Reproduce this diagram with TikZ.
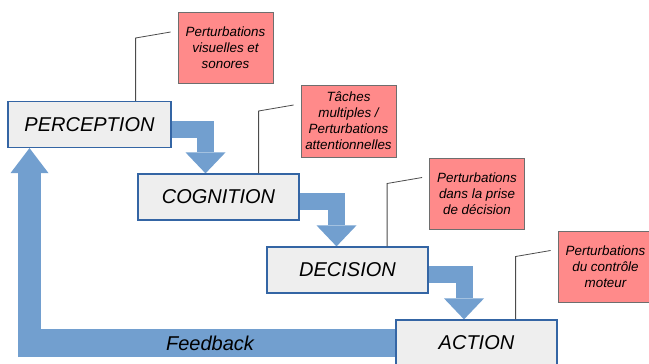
\documentclass[tikz,border=0pt]{standalone}
\usepackage{fontspec}
\setmainfont{Liberation Sans}
\usetikzlibrary{arrows.meta,backgrounds}

\definecolor{flowblue}{HTML}{729FCF}
\definecolor{boxblue}{HTML}{3465A4}
\definecolor{boxgray}{HTML}{EEEEEE}
\definecolor{notered}{HTML}{FF8A8A}
\definecolor{notegray}{HTML}{6E6E6E}

\tikzset{
  stage/.style={draw=boxblue, fill=boxgray, line width=1.2pt, minimum width=161pt,
    minimum height=46pt, inner sep=0pt, font=\fontsize{20}{24}\selectfont\itshape},
  note/.style={draw=notegray, fill=notered, line width=0.8pt, minimum width=95pt,
    minimum height=71pt, inner sep=0pt, align=center, font=\fontsize{13.4}{16}\selectfont\itshape},
  flow/.style={draw=flowblue, line width=17pt, line join=miter,
    -{Triangle[width=40pt,length=21pt,line width=0pt]}},
  leader/.style={draw=black!70, line width=0.8pt},
}

\begin{document}
\begin{tikzpicture}[x=1pt,y=-1pt]
\useasboundingbox (0,0) rectangle (649,364);

\node [stage, minimum width=163pt] (perception) at (89.5,124.5) {PERCEPTION};
\node [stage] (cognition) at (218.5,197) {COGNITION};
\node [stage] (decision) at (347.5,270) {DECISION};
\node [stage] (action) at (476.5,343) {ACTION};

\node [note] (percnote) at (225.5,48) {Perturbations\\visuelles et\\sonores};
\node [note, minimum height=72pt] (cognote) at (348.5,121) {Tâches\\multiples /\\Perturbations\\attentionnelles};
\node [note] (decnote) at (477,193.5) {Perturbations\\dans la prise\\de décision};
\node [note] (actnote) at (605.5,266.5) {Perturbations\\du contrôle\\moteur};

% leader lines
\foreach \s/\n in {perception/percnote, cognition/cognote, decision/decnote, action/actnote} {
	\coordinate (\n-knee) at ([shift={(-42,-10)}]\n.west);
	\coordinate (\n-end) at ([shift={(-7,-16)}]\n.west);
	\draw [leader] (\n-knee |- \s.north) -- (\n-knee) -- (\n-end);
}

\begin{scope}[on background layer]
\draw [flow] ([shift={(0,5)}]perception.east) -| ([shift={(-13,0)}]cognition.north);
\draw [flow] ([shift={(0,4.5)}]cognition.east) -| ([shift={(-11,0)}]decision.north);
\draw [flow] ([shift={(0,4.5)}]decision.east) -| ([shift={(-12.5,0)}]action.north);

% feedback loop
\coordinate (fbleft) at (18,343);
\coordinate (fbx) at (29.5,357);
\draw [flowblue, line width=28pt] (action.west) -- (fbleft |- action.west);
\draw [flow, line width=23pt, -{Triangle[width=38pt,length=25pt,line width=0pt]}] (fbx) -- (fbx |- perception.south);
\end{scope}

\node [font=\fontsize{20}{24}\selectfont\itshape] (fbtext) at (210,343) {Feedback};

\end{tikzpicture}
\end{document}
